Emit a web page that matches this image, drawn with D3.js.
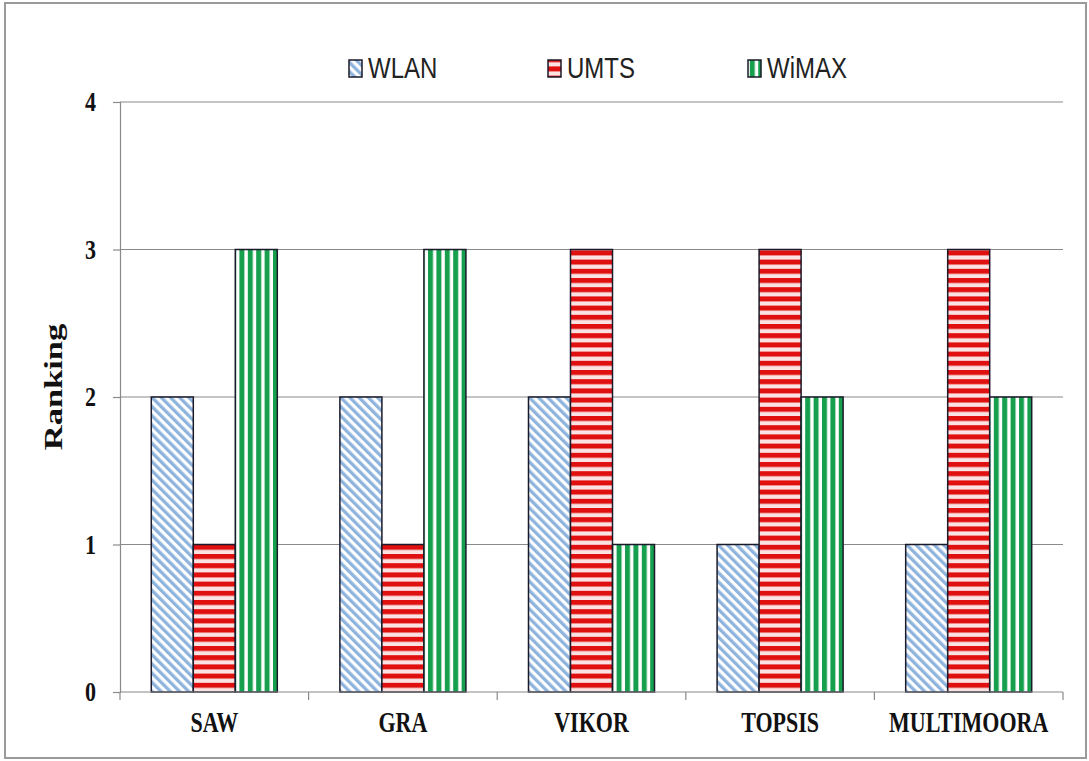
<!DOCTYPE html>
<html><head><meta charset="utf-8">
<script src="https://cdn.jsdelivr.net/npm/d3@7"></script>
<style>body{margin:0;background:#fff;} svg{display:block;}</style>
</head><body>
<script>
const categories = ["SAW", "GRA", "VIKOR", "TOPSIS", "MULTIMOORA"];
const seriesNames = ["WLAN", "UMTS", "WiMAX"];
const wlanValues = [2, 2, 2, 1, 1];
const umtsValues = [1, 1, 3, 3, 3];
const wimaxValues = [3, 3, 1, 2, 2];
const yTicks = [0, 1, 2, 3, 4];
const yTitle = "Ranking";

const valuesBySeries = {WLAN: wlanValues, UMTS: umtsValues, WiMAX: wimaxValues};
const W = 1089, H = 761;
const m = {left: 120, right: 1063, top: 102, bottom: 692};

const svg = d3.select("body").append("svg").attr("width", W).attr("height", H);
const defs = svg.append("defs");

// patterns
const pW = defs.append("pattern").attr("id", "pWLAN").attr("patternUnits", "userSpaceOnUse")
  .attr("width", 6.5).attr("height", 6.5).attr("patternTransform", "rotate(-45)");
pW.append("rect").attr("width", 6.5).attr("height", 6.5).attr("fill", "#ffffff");
pW.append("rect").attr("width", 3.3).attr("height", 6.5).attr("fill", "#8eb4de");

const pU = defs.append("pattern").attr("id", "pUMTS").attr("patternUnits", "userSpaceOnUse")
  .attr("width", 9).attr("height", 9.2).attr("y", 692);
pU.append("rect").attr("width", 9).attr("height", 9.2).attr("fill", "#fbe3e3");
pU.append("rect").attr("width", 9).attr("height", 5).attr("fill", "#e01010");

const pG = defs.append("pattern").attr("id", "pWiMAX").attr("patternUnits", "userSpaceOnUse")
  .attr("width", 8.4).attr("height", 9).attr("x", 237);
pG.append("rect").attr("width", 8.4).attr("height", 9).attr("fill", "#ffffff");
pG.append("rect").attr("width", 5).attr("height", 9).attr("fill", "#16a04e");

const fills = {WLAN: "url(#pWLAN)", UMTS: "url(#pUMTS)", WiMAX: "url(#pWiMAX)"};

// outer border
svg.append("rect").attr("x", 5).attr("y", 3).attr("width", 1081).attr("height", 755)
  .attr("fill", "none").attr("stroke", "#9a9a9a").attr("stroke-width", 2);

const x0 = d3.scaleBand().domain(categories).range([m.left, m.right]).paddingInner(0).paddingOuter(0);
const x1 = d3.scaleBand().domain(seriesNames).range([0, x0.bandwidth()]).paddingInner(0).paddingOuter(0.745);
const y = d3.scaleLinear().domain([0, 4]).range([m.bottom, m.top]);

// gridlines
svg.append("g").selectAll("line").data(yTicks.filter(t => t > 0)).join("line")
  .attr("x1", m.left).attr("x2", m.right).attr("y1", d => y(d)).attr("y2", d => y(d))
  .attr("stroke", "#8a8a8a").attr("stroke-width", 1.2);

// bars
const groups = svg.append("g").selectAll("g").data(categories).join("g")
  .attr("transform", d => `translate(${x0(d)},0)`);
groups.selectAll("rect").data((c, i) => seriesNames.map(s => ({s, v: valuesBySeries[s][i]}))).join("rect")
  .attr("x", d => x1(d.s)).attr("width", x1.bandwidth())
  .attr("y", d => y(d.v)).attr("height", d => y(0) - y(d.v))
  .attr("fill", d => fills[d.s]).attr("stroke", "#1a1a2a").attr("stroke-width", 1.5);

// y axis
const yAxis = svg.append("g").attr("transform", `translate(${m.left},0)`)
  .call(d3.axisLeft(y).tickValues(yTicks).tickSize(7).tickPadding(17).tickFormat(d3.format("d")));
yAxis.select(".domain").attr("stroke", "#8a8a8a").attr("stroke-width", 1.2);
yAxis.selectAll(".tick line").attr("stroke", "#8a8a8a").attr("stroke-width", 1.2);
yAxis.selectAll(".tick text").attr("font-family", "Liberation Serif").attr("font-weight", "bold")
  .attr("font-size", 22).attr("fill", "#111").attr("transform", "scale(1,1.25)");

// x axis
const xAxisG = svg.append("g").attr("transform", `translate(0,${m.bottom})`);
xAxisG.append("line").attr("x1", m.left).attr("x2", m.right).attr("stroke", "#8a8a8a").attr("stroke-width", 1.2);
const bounds = categories.map(c => x0(c)).concat([m.right]);
xAxisG.selectAll("line.t").data(bounds).join("line").attr("class", "t")
  .attr("x1", d => d).attr("x2", d => d).attr("y1", 0).attr("y2", 8)
  .attr("stroke", "#8a8a8a").attr("stroke-width", 1.2);
xAxisG.selectAll("text").data(categories).join("text")
  .attr("transform", d => `translate(${x0(d) + x0.bandwidth() / 2},40) scale(1,1.35)`)
  .attr("text-anchor", "middle").attr("font-family", "Liberation Serif").attr("font-weight", "bold")
  .attr("font-size", 22).attr("fill", "#111").text(d => d);

// y title
svg.append("text").attr("transform", "translate(62,387) rotate(-90) scale(1.38,1)")
  .attr("text-anchor", "middle").attr("font-family", "Liberation Serif").attr("font-weight", "bold")
  .attr("font-size", 25).attr("fill", "#111").text(yTitle);

// legend
const legendX = [349, 548, 748];
const lg = svg.append("g").selectAll("g").data(seriesNames).join("g")
  .attr("transform", (d, i) => `translate(${legendX[i]},0)`);
lg.append("rect").attr("x", 0).attr("y", 60).attr("width", 13).attr("height", 17)
  .attr("fill", d => fills[d]).attr("stroke", "#1a1a2a").attr("stroke-width", 1.5);
lg.append("text").attr("transform", "translate(19,78) scale(1,1.2)")
  .attr("font-family", "Liberation Sans").attr("font-size", 24).attr("fill", "#222").text(d => d);
</script>
</body></html>
